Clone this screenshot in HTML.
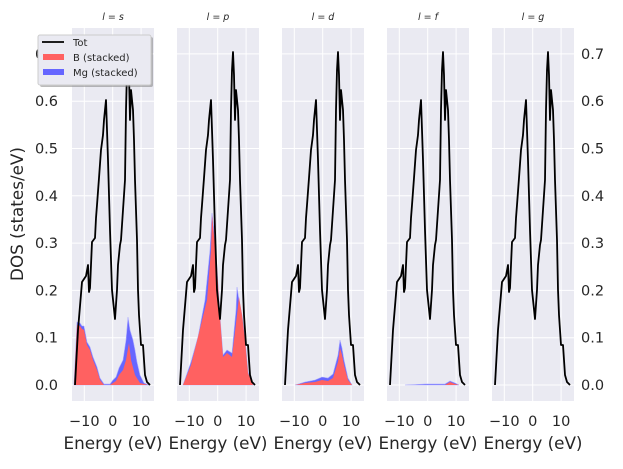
<!DOCTYPE html>
<html><head><meta charset="utf-8"><style>
body{margin:0;background:#fff}
svg{font-family:"DejaVu Sans","Liberation Sans",sans-serif}
</style></head><body>
<svg id="s" width="623" height="464" xmlns="http://www.w3.org/2000/svg"></svg>
<script>
const S=document.getElementById('s');let h='';
const tot=[[75,385],[78,330],[82,282],[86,276],[88,265],[89,292],[90,288],[92,242],[95,238],[96,218],[97,205],[99,178],[101,150],[103,135],[104,120],[106,100],[107,130],[108,160],[110,230],[112,290],[115,319],[117,290],[118,265],[120,245],[121,240],[123,210],[125,180],[126,110],[127,70],[128,52],[129,75],[130,120],[131,90],[132,100],[133,110],[134,140],[135,180],[137,240],[138,290],[139,315],[140,330],[141,345],[143,345],[145,375],[147,382],[150,385]];
const fills=[
 {blue:[[74,385],[77,322],[80,323],[82,326],[84,326],[87,342],[90,347],[93,357],[97,367],[100,378],[104,384],[110,384],[113,380],[116,377],[119,368],[123,360],[126,340],[128,317],[130,330],[133,340],[135,350],[137,362],[140,375],[144,383],[149,385]],
  red:[[74,385],[77,325],[80,326],[82,329],[84,330],[87,345],[90,350],[93,360],[97,370],[100,380],[104,385],[110,385],[113,383],[116,381],[119,375],[123,370],[126,360],[129,343],[131,360],[135,375],[140,383],[148,385]]},
 {blue:[[78,385],[86,362],[93,337],[100,300],[105,250],[107,213],[109,230],[112,267],[115,317],[118,355],[122,350],[127,353],[131,310],[132,287],[134,300],[137,315],[140,338],[143,372],[148,385]],
  red:[[78,385],[86,365],[93,337],[102,300],[106,250],[107,215],[112,267],[115,317],[118,357],[122,353],[127,357],[132,315],[134,297],[137,315],[140,340],[143,373],[148,385]]},
 {blue:[[85,385],[95,382],[105,380],[112,377],[118,378],[123,374],[128,355],[130,340],[132,348],[134,360],[138,378],[142,385]],
  red:[[85,385],[95,383],[105,382],[112,380],[118,381],[123,378],[128,362],[130,348],[132,355],[134,365],[138,380],[142,385]]},
 {blue:[[90,385],[110,384],[130,384],[135,381],[140,383],[144,385]],red:[[90,385],[110,385],[130,385],[135,382],[140,384],[144,385]]},
 {blue:[],red:[]}];
const titles=['s','p','d','f','g'];
const yt=[0,0.1,0.2,0.3,0.4,0.5,0.6,0.7];const Y=v=>385-v*473;
const pts=a=>a.map(p=>p.join(',')).join(' ');
for(let i=0;i<5;i++){
 const o=i*105;
 h+=`<g transform="translate(${o},0)"><rect x="72" y="28" width="82" height="373" fill="#eaeaf2"/>`;
 for(const v of yt)h+=`<line x1="72" x2="154" y1="${Y(v)}" y2="${Y(v)}" stroke="#fff" stroke-width="1"/>`;
 for(const x of [84.3,112.7,141.1])h+=`<line x1="${x}" x2="${x}" y1="28" y2="401" stroke="#fff" stroke-width="1"/>`;
 if(fills[i].blue.length){h+=`<polygon points="${pts(fills[i].blue)}" fill="#6666ff" stroke="#aaaaff" stroke-width="0.6"/><polygon points="${pts(fills[i].red)}" fill="#ff6161"/>`;}
 h+=`<polyline points="${pts(tot)}" fill="none" stroke="#000" stroke-width="1.8" stroke-linejoin="round"/>`;
 h+=`<text x="84.3" y="426" font-size="14.5" fill="#262626" text-anchor="middle">−10</text><text x="112.7" y="426" font-size="14.5" fill="#262626" text-anchor="middle">0</text><text x="141.1" y="426" font-size="14.5" fill="#262626" text-anchor="middle">10</text>`;
 h+=`<text x="113" y="449" font-size="16.8" fill="#262626" text-anchor="middle">Energy (eV)</text>`;
 h+=`<text x="113" y="20" font-size="9.5" fill="#262626" text-anchor="middle" font-style="italic">l = ${titles[i]}</text></g>`;
}
for(const v of yt){h+=`<text x="58" y="${Y(v)+5}" font-size="14.5" fill="#262626" text-anchor="end">${v.toFixed(1)}</text>`;
 h+=`<text x="581" y="${Y(v)+5}" font-size="14.5" fill="#262626">${v.toFixed(1)}</text>`;}
h+=`<text transform="translate(23,214) rotate(-90)" font-size="16.8" fill="#262626" text-anchor="middle">DOS (states/eV)</text>`;
h+=`<rect x="40" y="37" width="113" height="50" rx="2" fill="#777" opacity="0.5"/><rect x="38" y="35" width="113" height="50" rx="2" fill="#eaeaf2" stroke="#ccc"/>`;
h+=`<line x1="42" x2="64" y1="42" y2="42" stroke="#000" stroke-width="1.8"/><text x="73" y="46" font-size="10" fill="#262626">Tot</text>`;
h+=`<rect x="43" y="54" width="21" height="6" fill="#ff6161"/><text x="73" y="61" font-size="10" fill="#262626">B (stacked)</text>`;
h+=`<rect x="43" y="69" width="21" height="6" fill="#6666ff"/><text x="73" y="76" font-size="10" fill="#262626">Mg (stacked)</text>`;
S.innerHTML=h;
</script>
</body></html>
